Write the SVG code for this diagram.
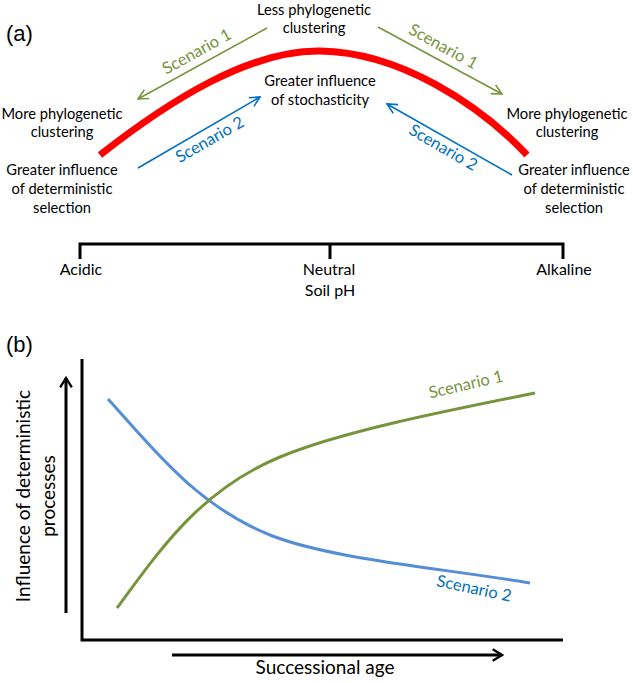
<svg xmlns="http://www.w3.org/2000/svg" width="633" height="683" viewBox="0 0 633 683">
<defs>
<style>
text{font-family:Lato,"Liberation Sans",sans-serif;fill:#000}
.lbl{font-size:14.7px;text-anchor:middle}
.ax{font-size:16px;text-anchor:middle}
.big{font-size:19px;text-anchor:middle}
.pan{font-family:"Liberation Sans",Arial,sans-serif;font-size:22px}
.sc{font-size:16.5px;text-anchor:middle}
.g{fill:#77933C}
.b{fill:#0070C0}
.axis{stroke:#000;stroke-width:3;fill:none}
</style>
<marker id="ag" viewBox="0 0 12 12" refX="11" refY="6" markerWidth="12" markerHeight="12" markerUnits="userSpaceOnUse" orient="auto">
<path d="M1,1 L11,6 L1,11" fill="none" stroke="#77933C" stroke-width="1.6"/>
</marker>
<marker id="ab" viewBox="0 0 12 12" refX="11" refY="6" markerWidth="12" markerHeight="12" markerUnits="userSpaceOnUse" orient="auto">
<path d="M1,1 L11,6 L1,11" fill="none" stroke="#0070C0" stroke-width="1.6"/>
</marker>
<marker id="ak" viewBox="0 0 12 12" refX="10" refY="6" markerWidth="14" markerHeight="14" markerUnits="userSpaceOnUse" orient="auto">
<path d="M2,1 L10,6 L2,11" fill="none" stroke="#000" stroke-width="2"/>
</marker>
</defs>

<g id="panel-a">
<text class="pan" x="6" y="41">(a)</text>
<g id="curve-a"><path d="M100,155 C170,100 250,50 320,51 C400,52 480,105 527,155" fill="none" stroke="#FF0000" stroke-width="7"/></g>
<g id="top-text">
<text class="lbl" x="314" y="15">Less phylogenetic</text>
<text class="lbl" x="314" y="33">clustering</text>
</g>
<g id="mid-text">
<text class="lbl" x="320" y="86">Greater influence</text>
<text class="lbl" x="320" y="105">of stochasticity</text>
</g>
<g id="left-text">
<text class="lbl" x="62" y="119">More phylogenetic</text>
<text class="lbl" x="62" y="137">clustering</text>
<text class="lbl" x="62" y="175">Greater influence</text>
<text class="lbl" x="62" y="194">of deterministic</text>
<text class="lbl" x="62" y="213">selection</text>
</g>
<g id="right-text">
<text class="lbl" x="567" y="119">More phylogenetic</text>
<text class="lbl" x="567" y="137">clustering</text>
<text class="lbl" x="574" y="175">Greater influence</text>
<text class="lbl" x="574" y="194">of deterministic</text>
<text class="lbl" x="574" y="213">selection</text>
</g>
<g id="connectors-a">
<line x1="267" y1="28" x2="138" y2="99" stroke="#77933C" stroke-width="1.6" marker-end="url(#ag)"/>
<line x1="378" y1="27" x2="502" y2="94" stroke="#77933C" stroke-width="1.6" marker-end="url(#ag)"/>
<line x1="138" y1="168" x2="260" y2="97" stroke="#0070C0" stroke-width="1.6" marker-end="url(#ab)"/>
<line x1="512" y1="175" x2="387" y2="104" stroke="#0070C0" stroke-width="1.6" marker-end="url(#ab)"/>
</g>
<g id="scenario-labels-a">
<text class="sc g" transform="translate(197,52) rotate(-29)" y="5">Scenario 1</text>
<text class="sc g" transform="translate(443,47) rotate(29)" y="5">Scenario 1</text>
<text class="sc b" transform="translate(210,140) rotate(-30)" y="5">Scenario 2</text>
<text class="sc b" transform="translate(443,148) rotate(30)" y="5">Scenario 2</text>
</g>
<g id="ph-axis">
<path class="axis" d="M80,259 V244 H563 V259 M330,244 V259"/>
<text class="ax" x="81" y="275">Acidic</text>
<text class="ax" x="329" y="275">Neutral</text>
<text class="ax" x="564" y="275">Alkaline</text>
<text class="ax" x="330" y="296">Soil pH</text>
</g>
</g>

<g id="panel-b">
<text class="pan" x="6" y="352">(b)</text>
<g id="axes-b">
<path class="axis" d="M82,359 V640 H563"/>
<line x1="66" y1="613" x2="66" y2="378" stroke="#000" stroke-width="3" marker-end="url(#ak)"/>
<line x1="172" y1="655" x2="502" y2="655" stroke="#000" stroke-width="3" marker-end="url(#ak)"/>
<text class="big" transform="translate(30,496) rotate(-90)">Influence of deterministic</text>
<text class="big" transform="translate(55,496) rotate(-90)">processes</text>
<text class="big" x="325" y="674">Successional age</text>
</g>
<g id="curves-b">
<path d="M108,399 C150,445 195,505 270,535 C330,559 440,568 530,583" fill="none" stroke="#558ED5" stroke-width="3"/>
<path d="M117,608 C160,550 200,490 280,457 C340,432 440,412 535,393" fill="none" stroke="#77933C" stroke-width="3"/>
</g>
<g id="scenario-labels-b">
<text class="sc g" transform="translate(466,385) rotate(-13)" y="5">Scenario 1</text>
<text class="sc b" transform="translate(474,589) rotate(12)" y="5">Scenario 2</text>
</g>
</g>
</svg>
